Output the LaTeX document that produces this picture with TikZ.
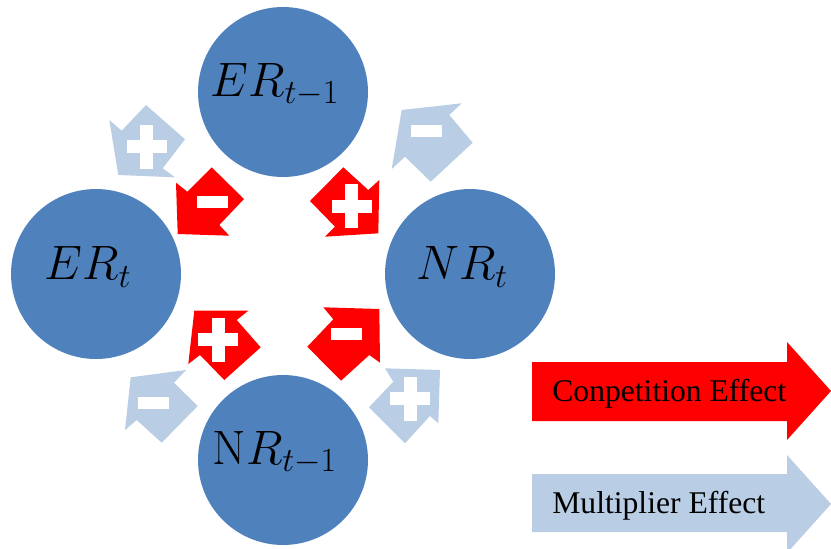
\RequirePackage{fix-cm}
\documentclass[tikz,border=0pt]{standalone}
\usepackage{fontspec}
\newfontfamily\legendfont{Liberation Serif}
\definecolor{circblue}{HTML}{4F81BD}
\definecolor{lightarr}{HTML}{B9CDE5}
\definecolor{comparr}{HTML}{FF0000}

\begin{document}
\begin{tikzpicture}[x=0.02cm,y=-0.02cm]
  \tikzstyle{state}=[circle,fill=circblue,minimum size=3.4cm,inner sep=0pt]
  \tikzstyle{lbl}=[inner sep=0pt,font=\fontsize{27.5}{30}\selectfont]
  \tikzstyle{comp}=[fill=comparr]
  \tikzstyle{mult}=[fill=lightarr]
  \tikzstyle{legendtext}=[anchor=base west,inner sep=0pt,font=\legendfont\fontsize{18}{20}\selectfont]
  \tikzset{
    plussign/.pic={\fill[white] (-20,-6.5) rectangle (20,6.5); \fill[white] (-6.5,-22) rectangle (6.5,22);},
    minussign/.pic={\fill[white] (-15.5,-6) rectangle (15.5,6);}
  }
  \useasboundingbox (0,0) rectangle (831,548);
  % the four states
  \node[state] (ert1) at (283,92) {};
  \node[state] (ert) at (96,274) {};
  \node[state] (nrt) at (470,274) {};
  \node[state] (nrt1) at (283,460) {};
  \node[lbl] (ert1lbl) at ([shift={(-8,-7)}]ert1.center) {$ER_{t-1}$};
  \node[lbl] (ertlbl) at ([shift={(-8,-7)}]ert.center) {$ER_t$};
  \node[lbl] (nrtlbl) at ([shift={(-8,-7)}]nrt.center) {$NR_t$};
  \node[lbl] (nrt1lbl) at ([shift={(-8,-7)}]nrt1.center) {$\mathrm{N}R_{t-1}$};
  % multiplier arrows
  \fill[mult] (109.3,120) -- (121.7,130.7) -- (146,105) -- (185,139.3) -- (162.7,168.3) -- (175,177.3) -- (118.3,175) -- cycle;
  \pic at (146.7,146.5) {plussign};
  \fill[mult] (391.7,169) -- (401.7,110) -- (461.7,103.3) -- (449.3,115) -- (472.7,142.7) -- (430.7,181.7) -- (405,156.7) -- cycle;
  \pic at (426.7,130.5) {minussign};
  \fill[mult] (125,430) -- (130.7,377.3) -- (186,370) -- (174,382.7) -- (197.7,406) -- (161.7,442.7) -- (136.7,420) -- cycle;
  \pic at (153.3,403.3) {minussign};
  \fill[mult] (385,368.3) -- (440,370) -- (438.3,423.3) -- (430,416) -- (405,443.3) -- (369,407.3) -- (393.3,381.7) -- cycle;
  \pic at (410,398.5) {plussign};
  % competition arrows
  \fill[comp] (176,182.7) -- (187.3,191.7) -- (211.7,167.3) -- (244,199) -- (219.3,225) -- (229.3,235.7) -- (177.7,234) -- cycle;
  \pic at (212.5,201.8) {minussign};
  \fill[comp] (310,201) -- (343.3,167.3) -- (368.3,190) -- (379.3,180) -- (378.3,233.3) -- (325,236.7) -- (335,226.7) -- cycle;
  \pic at (351.5,206) {plussign};
  \fill[comp] (188.3,364) -- (194.3,310.7) -- (248.3,310.7) -- (236.7,320) -- (260.7,347.3) -- (224.3,380) -- (200,355) -- cycle;
  \pic at (218.3,339.5) {plussign};
  \fill[comp] (323.3,307.3) -- (379.3,309) -- (380,362.7) -- (369.3,355) -- (341,380.7) -- (307.3,346.7) -- (333.3,319.3) -- cycle;
  \pic at (346.3,333.8) {minussign};
  % legend
  \fill[comp] (532,362) -- (787,362) -- (787,342) -- (831,391) -- (787,440) -- (787,421) -- (532,421) -- cycle;
  \fill[mult] (532,474) -- (787,474) -- (787,455) -- (831,504) -- (787,553) -- (787,532) -- (532,532) -- cycle;
  \node[legendtext] (comptxt) at (552,401) {Conpetition Effect};
  \node[legendtext] (multtxt) at (552,513) {Multiplier Effect};
\end{tikzpicture}
\end{document}
